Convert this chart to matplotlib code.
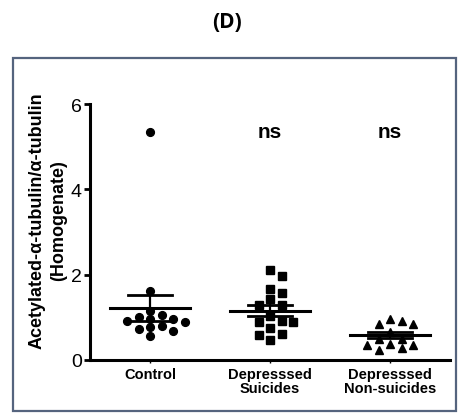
import numpy as np
import matplotlib
matplotlib.use('Agg')
import matplotlib.pyplot as plt
from matplotlib.patches import Rectangle

# values
categories = ['Control', 'Depresssed\nSuicides', 'Depresssed\nNon-suicides']
control = [5.35, 1.62, 1.15, 1.05, 1.0, 0.97, 0.95, 0.92, 0.9, 0.8, 0.78, 0.72, 0.69, 0.57]
suicides = [2.11, 1.97, 1.66, 1.56, 1.44, 1.29, 1.28, 1.04, 0.92, 0.90, 0.89, 0.74, 0.61, 0.59, 0.47]
non_suicides = [0.95, 0.92, 0.84, 0.84, 0.66, 0.49, 0.49, 0.37, 0.35, 0.35, 0.28, 0.24]
means = [1.22, 1.16, 0.59]
sems = [0.31, 0.14, 0.07]
sig_labels = ['', 'ns', 'ns']
yticks = [0, 2, 4, 6]

groups = [control, suicides, non_suicides]
markers = ['o', 's', '^']
msizes = [5.6, 5.2, 5.4]

W, H = 462, 414
fig = plt.figure(figsize=(W / 100, H / 100), dpi=100)

# outer frame
fig.patches.append(Rectangle((13 / W, 2 / H), 443 / W, 353 / H, transform=fig.transFigure,
                             fill=False, edgecolor='#55647e', linewidth=1.6))
fig.text(0.492, 1 - 23 / H, '(D)', ha='center', va='center', fontsize=15,
         fontweight='bold', family=['Open Sans', 'DejaVu Sans'])

ax = fig.add_axes([90 / W, 53 / H, 360 / W, 256 / H])
ax.set_xlim(-0.5, 2.5)
ax.set_ylim(0, 6)

px_x = 120.0   # pixels per x unit
px_y = 256 / 6.0  # pixels per y unit


def swarm(vals, step=11.5, gap=7.5):
    # greedy column-scatter layout, like GraphPad
    placed = []
    xs = np.zeros(len(vals))
    order = np.argsort(vals)[::-1]
    for i in order:
        k = 0
        while True:
            for off in ([0] if k == 0 else [k, -k]):
                ok = True
                for (xo, vo) in placed:
                    if abs(off - xo) * step < step - 0.1 and abs(vals[i] - vo) * px_y < gap:
                        ok = False
                        break
                if ok:
                    break
            if ok:
                break
            k += 1
        placed.append((off, vals[i]))
        xs[i] = off * step / px_x
    return xs


for i, vals in enumerate(groups):
    vals = np.array(vals)
    xs = i + swarm(vals)
    ax.plot(xs, vals, linestyle='none', marker=markers[i], markersize=msizes[i],
            color='black', clip_on=False, zorder=3)
    m, s = means[i], sems[i]
    ax.plot([i - 0.335, i + 0.335], [m, m], color='black', lw=2.2, zorder=4)
    ax.plot([i, i], [m - s, m + s], color='black', lw=1.6, zorder=4)
    for yy in (m - s, m + s):
        ax.plot([i - 0.18, i + 0.18], [yy, yy], color='black', lw=2.0, zorder=4)
    if sig_labels[i]:
        ax.text(i, 5.35, sig_labels[i], ha='center', va='center', fontsize=15,
                fontweight='bold', family=['Liberation Sans', 'DejaVu Sans'])

for side in ['top', 'right']:
    ax.spines[side].set_visible(False)
for side in ['left', 'bottom']:
    ax.spines[side].set_linewidth(2.2)

ax.set_yticks(yticks)
ax.set_yticklabels([str(t) for t in yticks], fontsize=14,
                   family=['Liberation Sans Narrow', 'Liberation Sans'])
ax.tick_params(axis='y', length=4, width=2, pad=2)
ax.set_xticks(range(len(categories)))
ax.set_xticklabels(categories, fontsize=10.5, fontweight='bold', linespacing=1.0,
                   family=['Liberation Sans', 'DejaVu Sans'])
ax.tick_params(axis='x', length=2, width=1, pad=3)

fig.text(48 / W, 1 - 221 / H, 'Acetylated-α-tubulin/α-tubulin\n(Homogenate)',
         rotation=90, ha='center', va='center', fontsize=13, fontweight='bold',
         linespacing=1.35, family=['Liberation Sans', 'DejaVu Sans'])

fig.savefig('out.png', dpi=100)
